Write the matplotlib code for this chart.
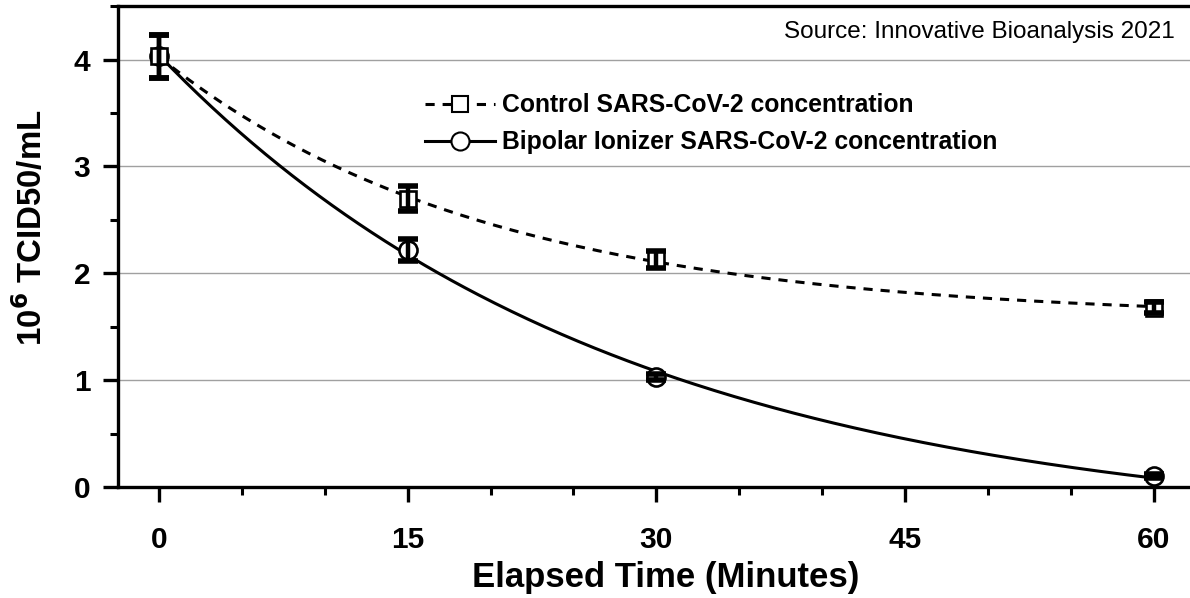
import matplotlib
matplotlib.use('Agg')
import matplotlib.pyplot as plt
from matplotlib.ticker import MultipleLocator
import numpy as np

plt.rcParams['font.family'] = ['Liberation Sans', 'DejaVu Sans']

# measured points (minutes, 10^6 TCID50/mL)
minutes = [0, 15, 30, 60]
control = [4.03, 2.70, 2.13, 1.68]
control_err = [0.20, 0.12, 0.08, 0.05]
ionizer = [4.03, 2.22, 1.03, 0.10]
ionizer_err = [0.20, 0.10, 0.03, 0.02]


def fit_decay(t, y):
    # y = c + b*exp(-k t), search k, least squares for c, b
    t = np.array(t, dtype=float)
    y = np.array(y, dtype=float)
    best = None
    for k in np.linspace(0.001, 0.3, 3000):
        A = np.column_stack([np.ones_like(t), np.exp(-k * t)])
        coef, *_ = np.linalg.lstsq(A, y, rcond=None)
        err = np.sum((A @ coef - y) ** 2)
        if best is None or err < best[0]:
            best = (err, k, coef)
    _, k, (c, b) = best
    return lambda x: c + b * np.exp(-k * x)


fig = plt.figure(figsize=(11.9, 5.98), dpi=100)
ax = fig.add_axes([0.0992, 0.1856, 0.9008, 0.804])

tt = np.linspace(0, 60, 300)
f_ctrl = fit_decay(minutes, control)
f_ion = fit_decay(minutes, ionizer)

dash = (0, (3, 2.6))
ax.plot(tt, f_ctrl(tt), color='black', lw=2.2, ls=dash, zorder=3)
ax.plot(tt, f_ion(tt), color='black', lw=2.2, zorder=3)

ax.plot(minutes, ionizer, ls='none', marker='o', ms=13, mfc='white',
        mec='black', mew=1.9, zorder=4)
ax.plot(minutes, control, ls='none', marker='s', ms=12, mfc='white',
        mec='black', mew=1.9, zorder=5)
ax.errorbar(minutes, control, yerr=control_err, fmt='none', ecolor='black',
            elinewidth=3.2, capsize=7, capthick=4, zorder=6)
ax.errorbar(minutes, ionizer, yerr=ionizer_err, fmt='none', ecolor='black',
            elinewidth=3.2, capsize=7, capthick=4, zorder=6)

# legend handles
ax.plot([], [], color='black', lw=2.2, ls=dash, marker='s', ms=12,
        mfc='white', mec='black', mew=1.5, label='Control SARS-CoV-2 concentration')
ax.plot([], [], color='black', lw=2.2, marker='o', ms=13,
        mfc='white', mec='black', mew=1.5, label='Bipolar Ionizer SARS-CoV-2 concentration')
ax.legend(loc='upper left', bbox_to_anchor=(408 / 1190, 1 - 76 / 598),
          bbox_transform=fig.transFigure, frameon=False,
          prop={'weight': 'bold', 'size': 17.8}, handlelength=2.8,
          labelspacing=0.52, handletextpad=0.3, borderpad=0.2)

ax.set_xlim(-2.47, 62.2)
ax.set_ylim(0, 4.5)
ax.xaxis.set_major_locator(MultipleLocator(15))
ax.xaxis.set_minor_locator(MultipleLocator(5))
ax.yaxis.set_major_locator(MultipleLocator(1))
ax.yaxis.set_minor_locator(MultipleLocator(0.5))
ax.grid(axis='y', which='major', color='#a0a0a0', lw=1)
ax.set_axisbelow(True)

for s in ['left', 'bottom', 'top']:
    ax.spines[s].set_linewidth(2.4)
ax.spines['right'].set_visible(False)
ax.tick_params(which='major', direction='out', length=11, width=2.4,
               labelsize=21.5, pad=9)
ax.tick_params(axis='x', which='major', pad=17)
ax.tick_params(which='minor', direction='out', length=6, width=2.2)
ax.tick_params(axis='y', which='both', right=False)
for lab in ax.get_xticklabels() + ax.get_yticklabels():
    lab.set_fontweight('bold')

ax.set_xlabel('Elapsed Time (Minutes)', fontsize=25, fontweight='bold')
ax.set_ylabel(r'10$^{\mathbf{6}}$ TCID50/mL', fontsize=23.8, fontweight='bold')
ax.xaxis.set_label_coords((666 - 118) / (1190 * 0.9008), (487 - 578) / 481)
ax.xaxis.label.set_va('center')
ax.yaxis.set_label_coords((31 - 118) / (1190 * 0.9008), (487 - 228) / 481)
ax.yaxis.label.set_va('center')

ax.text(1175 / 1190, 1 - 32 / 598, 'Source: Innovative Bioanalysis 2021',
        transform=fig.transFigure, ha='right', va='center', fontsize=17.5)

fig.savefig('out.png', dpi=100)
